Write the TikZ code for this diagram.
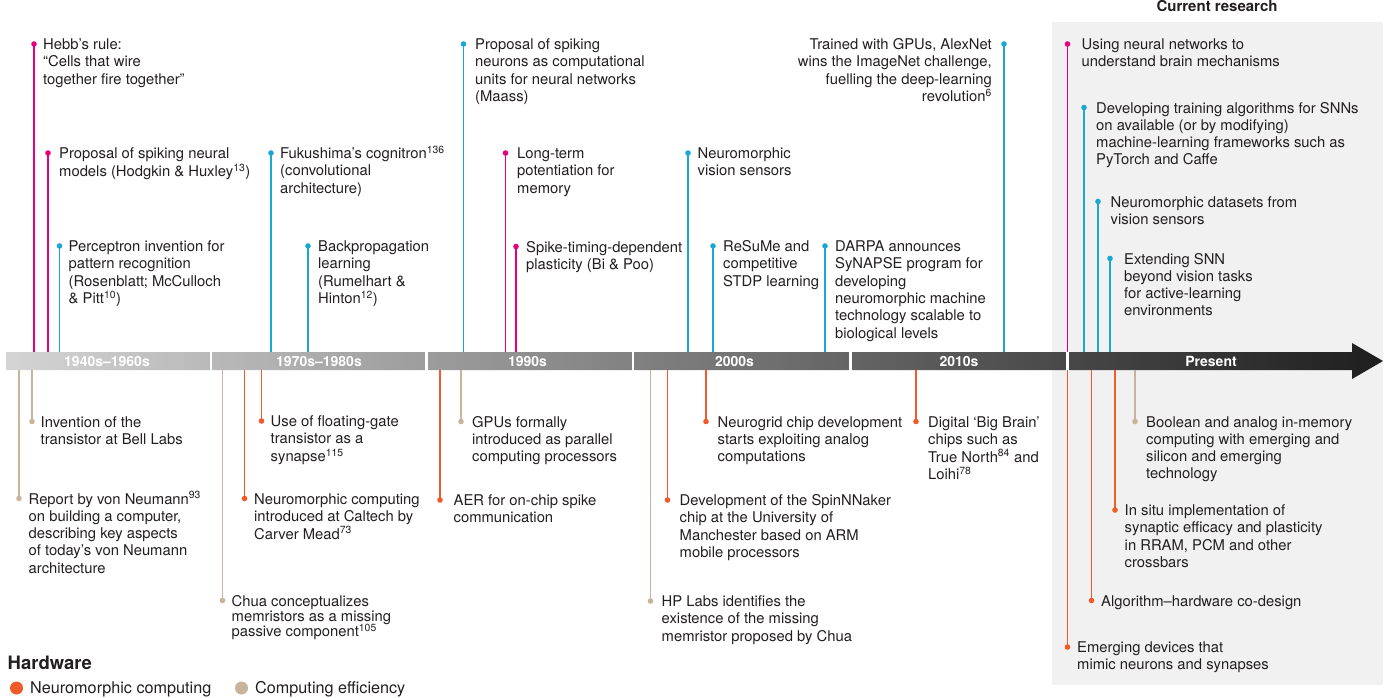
\documentclass[tikz,border=0pt]{standalone}
\usepackage{fontspec}
\setmainfont{TeX Gyre Heros}
\definecolor{pinkc}{HTML}{E6007E}
\definecolor{cyanc}{HTML}{1AA7D4}
\definecolor{orangec}{HTML}{F15A29}
\definecolor{tanc}{HTML}{C8B49C}
\definecolor{txt}{HTML}{231F20}
\definecolor{panel}{HTML}{F1F1F1}
\definecolor{barL}{HTML}{D4D4D4}
\definecolor{barR}{HTML}{1E1E1E}
% event: name, colour, dot x, dot y, bar y, text x, text
\newcommand\ev[7]{%
  \coordinate (#1) at (#3,#4);
  \coordinate (#1b) at (#3,#5);
  \draw[evline,draw=#2] (#1) -- (#1b);
  \fill[#2] (#1) circle (2.8);
  \node[evtxt] (#1t) at (#6,#4+5.5) {\begin{tabular}[t]{@{}l@{}}#7\end{tabular}};
}
\newcommand\evr[7]{%
  \coordinate (#1) at (#3,#4);
  \coordinate (#1b) at (#3,#5);
  \draw[evline,draw=#2] (#1) -- (#1b);
  \fill[#2] (#1) circle (2.8);
  \node[evtxt,anchor=base east] (#1t) at (#6,#4+5.5) {\begin{tabular}[t]{@{}r@{}}#7\end{tabular}};
}
\begin{document}
\begin{tikzpicture}[x=1pt,y=-1pt,
  evline/.style={line width=1.4pt},
  evtxt/.style={inner sep=0pt, anchor=base west, text=txt, font=\fontsize{14.8}{17.3}\selectfont},
  barlbl/.style={inner sep=0pt, anchor=base, text=white, font=\bfseries\fontsize{14}{16}\selectfont},
  legtxt/.style={inner sep=0pt, anchor=base west, text=txt, font=\fontsize{16.2}{19}\selectfont}]
\useasboundingbox (0,0) rectangle (1389,697);
\fill[white] (0,0) rectangle (1389,697);
\fill[panel] (1052,22) rectangle (1383,685);
\node[inner sep=0pt, anchor=base, text=txt, font=\bfseries\fontsize{15}{18}\selectfont] (cr) at (1217,11.5) {Current research};

% timeline bar
\shade[left color=barL, right color=barR] (6,352) -- (1352,352) -- (1352,343) -- (1383,361) -- (1352,379) -- (1352,370) -- (6,370) -- cycle;
\foreach \s in {211,426.5,633,850.5,1067.5} \draw[white, line width=2.5pt] (\s,351) -- (\s,371);
\node[barlbl] (p1) at (107,366) {1940s–1960s};
\node[barlbl] (p2) at (319,366) {1970s–1980s};
\node[barlbl] (p3) at (527.5,366) {1990s};
\node[barlbl] (p4) at (734.5,366) {2000s};
\node[barlbl] (p5) at (959,366) {2010s};
\node[barlbl] (p6) at (1211,366) {Present};

% events above the bar
\ev{t1}{pinkc}{34}{44}{352}{43}{Hebb’s rule:\\“Cells that wire\\together fire together”}
\ev{t2}{pinkc}{48}{153}{352}{59}{Proposal of spiking neural\\models (Hodgkin \& Huxley\textsuperscript{13})}
\ev{t3}{cyanc}{59.5}{246}{352}{68.5}{Perceptron invention for\\pattern recognition\\(Rosenblatt; McCulloch\\\& Pitt\textsuperscript{10})}
\ev{t4}{cyanc}{271}{153}{352}{280}{Fukushima’s cognitron\textsuperscript{136}\\(convolutional\\architecture)}
\ev{t5}{cyanc}{308}{246}{352}{318}{Backpropagation\\learning\\(Rumelhart \&\\Hinton\textsuperscript{12})}
\ev{t6}{cyanc}{463.5}{44}{352}{475}{Proposal of spiking\\neurons as computational\\units for neural networks\\(Maass)}
\ev{t7}{pinkc}{505.5}{153}{352}{517}{Long-term\\potentiation for\\memory}
\ev{t8}{pinkc}{516}{246.5}{352}{526}{Spike-timing-dependent\\plasticity (Bi \& Poo)}
\ev{t9}{cyanc}{688}{153}{352}{697.5}{Neuromorphic\\vision sensors}
\ev{t10}{cyanc}{713}{246}{352}{723}{ReSuMe and\\competitive\\STDP learning}
\ev{t11}{cyanc}{825}{246}{352}{835}{DARPA announces\\SyNAPSE program for\\developing\\neuromorphic machine\\technology scalable to\\biological levels}
\evr{t12}{cyanc}{1004}{44}{352}{992}{Trained with GPUs, AlexNet\\wins the ImageNet challenge,\\fuelling the deep-learning\\revolution\textsuperscript{6}}
\ev{t13}{pinkc}{1067.5}{44}{352}{1081.5}{Using neural networks to\\understand brain mechanisms}
\ev{t14}{cyanc}{1084}{107.5}{352}{1096}{Developing training algorithms for SNNs\\on available (or by modifying)\\machine-learning frameworks such as\\PyTorch and Caffe}
\ev{t15}{cyanc}{1098}{201.5}{352}{1110.5}{Neuromorphic datasets from\\vision sensors}
\ev{t16}{cyanc}{1110}{258.5}{352}{1124}{Extending SNN\\beyond vision tasks\\for active-learning\\environments}

% events below the bar
\ev{b1}{tanc}{19}{498.5}{370}{28.5}{Report by von Neumann\textsuperscript{93}\\on building a computer,\\describing key aspects\\of today’s von Neumann\\architecture}
\ev{b2}{tanc}{32}{421.5}{370}{40.5}{Invention of the\\transistor at Bell Labs}
\ev{b3}{tanc}{222.5}{600.5}{370}{231.5}{Chua conceptualizes\\[-2pt]memristors as a missing\\[-2.5pt]passive component\textsuperscript{105}}
\ev{b4}{orangec}{244.5}{498.5}{370}{254}{Neuromorphic computing\\introduced at Caltech by\\Carver Mead\textsuperscript{73}}
\ev{b5}{orangec}{261.5}{421}{370}{270.5}{Use of floating-gate\\transistor as a\\synapse\textsuperscript{115}}
\ev{b6}{orangec}{440}{500}{370}{453.5}{AER for on-chip spike\\communication}
\ev{b7}{tanc}{461}{421.5}{370}{472}{GPUs formally\\introduced as parallel\\computing processors}
\ev{b8}{tanc}{650.5}{601}{370}{661.5}{HP Labs identifies the\\existence of the missing\\memristor proposed by Chua}
\ev{b9}{orangec}{667.5}{500}{370}{679.5}{Development of the SpinNNaker\\chip at the University of\\Manchester based on ARM\\mobile processors}
\ev{b10}{orangec}{706}{421.5}{370}{717.5}{Neurogrid chip development\\starts exploiting analog\\computations}
\ev{b11}{orangec}{916}{421.5}{370}{928}{Digital ‘Big Brain’\\chips such as\\True North\textsuperscript{84} and\\Loihi\textsuperscript{78}}
\ev{b12}{orangec}{1067.5}{647}{370}{1077}{Emerging devices that\\mimic neurons and synapses}
\ev{b13}{orangec}{1091.5}{600.5}{370}{1101}{Algorithm–hardware co-design}
\ev{b14}{orangec}{1115}{510}{370}{1124.5}{In situ implementation of\\synaptic efficacy and plasticity\\in RRAM, PCM and other\\crossbars}
\ev{b15}{tanc}{1135}{421.5}{370}{1146}{Boolean and analog in-memory\\computing with emerging and\\silicon and emerging\\technology}

% legend
\node[inner sep=0pt, anchor=base west, text=txt, font=\bfseries\fontsize{18.5}{21}\selectfont] (hw) at (7.5,669) {Hardware};
\fill[orangec] (16.5,688) circle (6.5);
\node[legtxt] (l1) at (30,693.5) {Neuromorphic computing};
\fill[tanc] (241.5,688) circle (6.5);
\node[legtxt] (l2) at (255,693.5) {Computing efficiency};
\end{tikzpicture}
\end{document}
